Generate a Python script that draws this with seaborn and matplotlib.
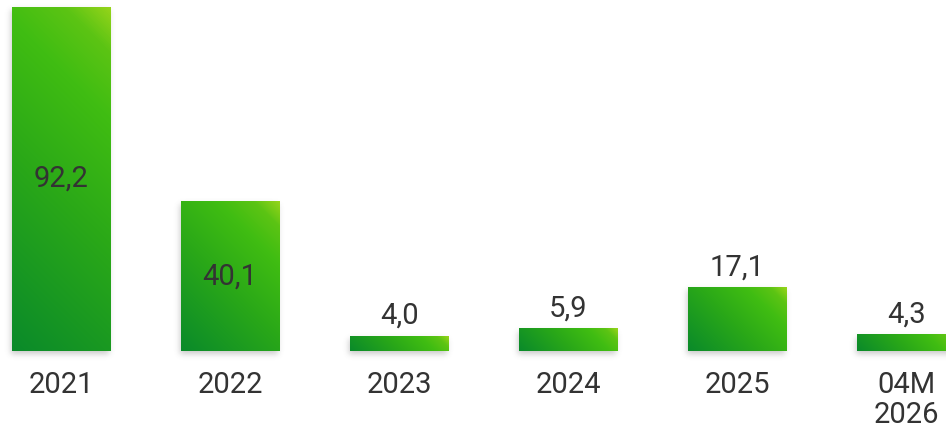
import math
import numpy as np
import pandas as pd
import seaborn as sns
import matplotlib
matplotlib.use("Agg")
import matplotlib.pyplot as plt
from matplotlib.colors import LinearSegmentedColormap

# Data
periods = ["2021", "2022", "2023", "2024", "2025", "04M\n2026"]
values = [92.2, 40.1, 4.0, 5.9, 17.1, 4.3]
value_labels = ["92,2", "40,1", "4,0", "5,9", "17,1", "4,3"]

W_PX, H_PX, DPI = 946, 429, 100

sns.set_theme(style="white")
plt.rcParams["font.family"] = ["Roboto", "DejaVu Sans"]
TEXT_WEIGHT = "normal"
TEXT_COLOR = "#333333"

fig = plt.figure(figsize=(W_PX / DPI, H_PX / DPI), dpi=DPI)
ax = fig.add_axes([0, 0, 1, 1])

df = pd.DataFrame({"period": periods, "value": values})
sns.barplot(data=df, x="period", y="value", ax=ax, width=0.58,
            color="#3cb814", saturation=1)

# Axis geometry: one category step = 169 px, value scale ~3.731 px per unit
px_per_x = 169.0
baseline_px = 351.0
px_per_y = (351.0 - 7.0) / 92.2
x_left = -61.0 / px_per_x
ax.set_xlim(x_left, x_left + W_PX / px_per_x)
ax.set_ylim(-(H_PX - baseline_px) / px_per_y, baseline_px / px_per_y)
ax.axis("off")

grad = LinearSegmentedColormap.from_list(
    "bar_grad",
    [(0.0, "#0a8a2a"), (0.45, "#2aa818"), (0.75, "#40bd12"), (0.9, "#5cc414"), (1.0, "#95d41a")],
)

erf = np.vectorize(math.erf)


def shadow_profile(coords, lo, hi, sigma):
    return 0.5 * (erf((coords - lo) / (math.sqrt(2) * sigma)) - erf((coords - hi) / (math.sqrt(2) * sigma)))


for patch in ax.patches:
    x0, y0 = patch.get_x(), patch.get_y()
    w, h = patch.get_width(), patch.get_height()
    patch.set_facecolor("none")
    patch.set_edgecolor("none")

    w_px, h_px = w * px_per_x, h * px_per_y

    # soft drop shadow
    sig = 3.0
    pad = 12
    xs = np.arange(-pad, w_px + pad, 1.0) + 0.5
    ys = np.arange(-pad, h_px + pad, 1.0) + 0.5
    sx = shadow_profile(xs, -1.0, w_px - 1.0, sig)
    sy = shadow_profile(ys, -3.0, h_px - 3.0, sig)
    alpha = np.outer(sy[::-1], sx) * 0.32
    rgba = np.zeros(alpha.shape + (4,))
    rgba[..., :3] = 0.35
    rgba[..., 3] = alpha
    ax.imshow(rgba, extent=(x0 - pad / px_per_x, x0 + w + pad / px_per_x,
                            y0 - pad / px_per_y, y0 + h + pad / px_per_y),
              aspect="auto", interpolation="bilinear", zorder=1, origin="upper")

    # diagonal gradient fill (bottom-left dark to top-right light)
    nx, ny = max(int(w_px), 2), max(int(h_px), 2)
    u = np.linspace(0, w_px, nx)
    v = np.linspace(0, h_px, ny)
    U, V = np.meshgrid(u, v)
    t = (U + V) / (w_px + h_px)
    ax.imshow(t, cmap=grad, vmin=0, vmax=1, origin="lower",
              extent=(x0, x0 + w, y0, y0 + h), aspect="auto",
              interpolation="bilinear", zorder=2)

# value labels: inside tall bars, above short ones
for i, (val, lab) in enumerate(zip(values, value_labels)):
    if val > 30:
        ax.text(i, val / 2, lab, ha="center", va="center", fontsize=21,
                fontweight=TEXT_WEIGHT, color=TEXT_COLOR, zorder=3)
    else:
        ax.text(i, val + 6 / px_per_y, lab, ha="center", va="bottom", fontsize=21,
                fontweight=TEXT_WEIGHT, color=TEXT_COLOR, zorder=3)

# category labels under the bars
for i, lab in enumerate(periods):
    ax.text(i, -20 / px_per_y, lab, ha="center", va="top", fontsize=21,
            fontweight=TEXT_WEIGHT, color=TEXT_COLOR, linespacing=1.1, zorder=3)

fig.savefig("out.png", dpi=DPI)
